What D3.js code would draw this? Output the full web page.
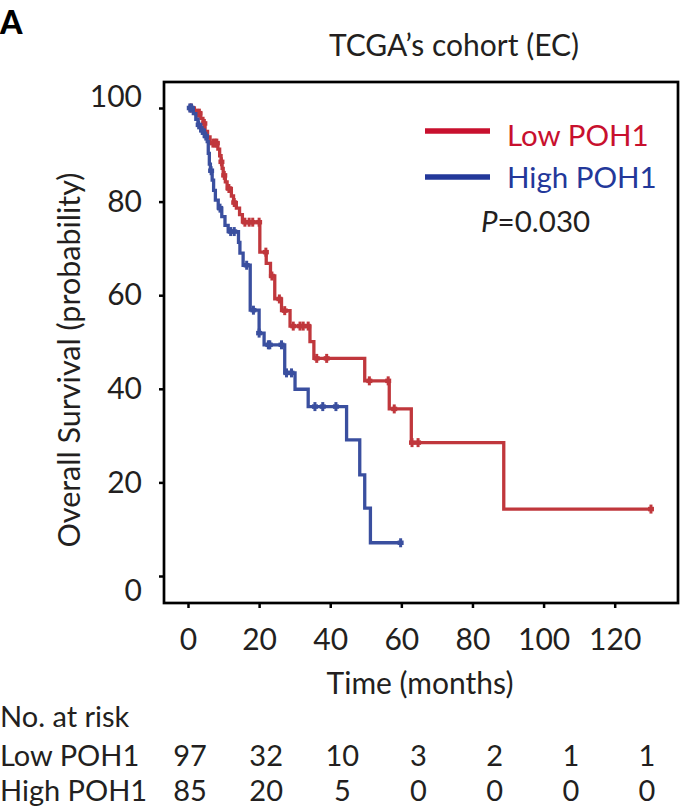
<!DOCTYPE html>
<html>
<head>
<script src="https://cdn.jsdelivr.net/npm/d3@7"></script>
<style>
  body { margin: 0; background: #fff; }
  svg text { font-family: Lato, "Noto Sans", sans-serif; fill: #231f20; }
</style>
</head>
<body>
<svg id="chart"></svg>
<script>
// --- data ---
var xTicks = [0, 20, 40, 60, 80, 100, 120];
var yTicks = [0, 20, 40, 60, 80, 100];

// Low POH1: [time (months), survival %] after each event
var lowSteps = [[0,100],[1.8,98.9],[3.6,97.8],[4.2,96.7],[4.8,95.0],[5.5,93.8],[6.2,92.5],
  [8.4,91.2],[8.9,89.8],[9.3,88.5],[9.6,87.1],[9.9,85.6],[10.5,84.2],[11.0,82.8],[12.2,81.2],
  [12.8,79.8],[13.6,78.6],[14.5,77.2],[15.3,75.6],[20.2,69.2],[22.0,66.8],[23.2,64.1],
  [24.4,59.2],[26.3,56.7],[28.7,53.4],[34.3,50.1],[35.4,46.5],[49.7,41.7],[56.6,35.7],
  [62.8,28.5],[88.8,14.3]];
var lowEnd = 130.2;
var lowCensor = [0.8,2.5,3.2,4.6,7.0,7.6,8.1,9.4,10.2,11.5,13.0,16.0,17.2,18.2,20.0,21.9,23.6,
  25.7,27.2,29.6,31.5,32.4,33.8,36.2,39.0,51.0,56.3,58.0,63.0,64.7,130.2];

// High POH1
var highSteps = [[0,100],[1.5,98.8],[2.2,97.6],[2.8,96.4],[3.6,95.2],[4.6,94.0],[5.4,92.8],
  [5.7,90.3],[6.0,88.0],[6.3,86.6],[6.8,84.6],[7.2,82.4],[7.7,80.3],[8.5,78.6],[9.5,76.8],
  [10.4,74.9],[11.3,73.6],[14.2,71.3],[14.6,69.0],[15.5,66.4],[17.5,56.8],[20.0,51.9],
  [21.4,49.4],[27.2,43.4],[30.1,39.9],[33.8,36.2],[44.6,29.1],[48.3,21.6],[49.7,14.5],
  [51.3,7.1]];
var highEnd = 59.8;
var highCensor = [0.5,1.0,3.0,4.0,5.0,6.5,9.0,12.0,13.0,16.5,18.4,20.0,22.6,23.0,26.3,27.7,
  29.1,35.7,37.9,41.6,59.8];

var groups = ["Low POH1", "High POH1"];
var atRiskLow = [97, 32, 10, 3, 2, 1, 1];
var atRiskHigh = [85, 20, 5, 0, 0, 0, 0];
var pText = "=0.030";

// --- layout ---
var W = 694, H = 808;
var boxLeft = 164, boxRight = 678, boxTop = 82, boxBottom = 603;
var red = "#c0373c", blue = "#3a4f9f";
var redLegend = "#c8102e", blueLegend = "#23389a";

var svg = d3.select("#chart").attr("width", W).attr("height", H);

var x = d3.scaleLinear().domain([0, 120]).range([188, 614.7]);
var y = d3.scaleLinear().domain([0, 100]).range([576, 108]);
// risk table columns are spread evenly, a bit wider than the axis
var col = d3.scalePoint().domain(xTicks).range([190, 647]);

// panel letter + title
svg.append("text").attr("x", 0).attr("y", 34)
  .style("font-size", "32px").style("font-weight", "900").style("fill", "#000").text("A");
svg.append("text").attr("x", 454).attr("y", 56).attr("text-anchor", "middle")
  .style("font-size", "30px").text("TCGA\u2019s cohort (EC)");

// axes
var yAxis = svg.append("g").attr("transform", "translate(" + boxLeft + ",0)")
  .call(d3.axisLeft(y).tickValues(yTicks).tickSize(5).tickPadding(17));
var xAxis = svg.append("g").attr("transform", "translate(0," + boxBottom + ")")
  .call(d3.axisBottom(x).tickValues(xTicks).tickSize(5).tickPadding(21));
[xAxis, yAxis].forEach(function(g) {
  g.select(".domain").remove();
  g.selectAll("line").attr("stroke", "#000").attr("stroke-width", 2.5);
  g.selectAll("text").style("font-size", "30px").attr("fill", "#231f20")
    .style("font-family", "Lato, sans-serif");
});
// the end labels sit a little off their ticks in the original
yAxis.selectAll(".tick text").attr("dy", function(d) {
  return d === 100 ? "-0.05em" : d === 0 ? "0.8em" : "0.32em";
});

svg.append("rect").attr("x", boxLeft).attr("y", boxTop)
  .attr("width", boxRight - boxLeft).attr("height", boxBottom - boxTop)
  .attr("fill", "none").attr("stroke", "#000").attr("stroke-width", 2.7);

// axis titles
svg.append("text").attr("transform", "translate(80,360) rotate(-90)")
  .attr("text-anchor", "middle").style("font-size", "30.5px")
  .text("Overall Survival (probability)");
svg.append("text").attr("x", 420).attr("y", 694)
  .attr("text-anchor", "middle").style("font-size", "30px").text("Time (months)");

// survival curves
var line = d3.line()
  .x(function(d) { return x(d[0]); })
  .y(function(d) { return y(d[1]); })
  .curve(d3.curveStepAfter);

function survAt(steps, t) {
  var s = steps[0][1];
  steps.forEach(function(d) { if (d[0] <= t) s = d[1]; });
  return s;
}

function drawCurve(steps, end, censor, color) {
  var pts = steps.concat([[end, steps[steps.length - 1][1]]]);
  svg.append("path").datum(pts)
    .attr("d", line).attr("fill", "none")
    .attr("stroke", color).attr("stroke-width", 3.3);
  var marks = svg.append("g").selectAll("g").data(censor).enter().append("g")
    .attr("transform", function(t) {
      return "translate(" + x(t) + "," + y(survAt(steps, t)) + ")";
    });
  marks.append("line").attr("y1", -4.5).attr("y2", 4.5)
    .attr("stroke", color).attr("stroke-width", 3);
  marks.append("line").attr("x1", -3).attr("x2", 3)
    .attr("stroke", color).attr("stroke-width", 4.5);
}
drawCurve(lowSteps, lowEnd, lowCensor, red);
drawCurve(highSteps, highEnd, highCensor, blue);

// legend
var legend = svg.append("g");
[[redLegend, 131, 146], [blueLegend, 177, 188]].forEach(function(d, i) {
  legend.append("line").attr("x1", 425).attr("x2", 490)
    .attr("y1", d[1]).attr("y2", d[1])
    .attr("stroke", d[0]).attr("stroke-width", 5.5);
  legend.append("text").attr("x", 507).attr("y", d[2])
    .style("font-size", "29.5px").style("fill", d[0]).text(groups[i]);
});
var pt = legend.append("text").attr("x", 481).attr("y", 232).style("font-size", "29.5px");
pt.append("tspan").style("font-style", "italic").text("P");
pt.append("tspan").text(pText);

// number at risk table
var tableFont = "29px";
svg.append("text").attr("x", 0).attr("y", 727).style("font-size", tableFont).text("No. at risk");
[[atRiskLow, 766], [atRiskHigh, 801]].forEach(function(row, i) {
  svg.append("text").attr("x", 0).attr("y", row[1]).style("font-size", tableFont).text(groups[i]);
  svg.append("g").selectAll("text").data(row[0]).enter().append("text")
    .attr("x", function(d, j) { return col(xTicks[j]); })
    .attr("y", row[1]).attr("text-anchor", "middle").style("font-size", tableFont)
    .text(function(d) { return d; });
});
</script>
</body>
</html>
